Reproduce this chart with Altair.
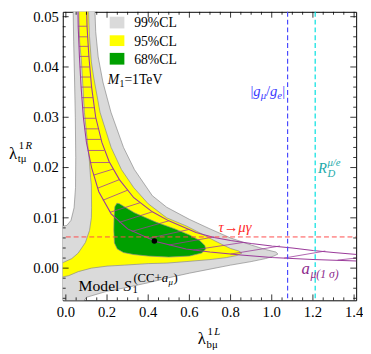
import altair as alt
import pandas as pd

SERIF = "Liberation Serif"
W, H = 300, 295

# ---------------- data ----------------
gray_x = [0.035, 0.038, 0.042, 0.046, 0.048, 0.047, 0.040, 0.025, 0.005, -0.02,
          -0.02, 0.06, 0.10, 0.20, 0.30, 0.40, 0.50, 0.60, 0.70, 0.80, 0.90,
          0.97, 1.01, 1.03, 1.02, 0.97, 0.90, 0.80, 0.70, 0.60, 0.49, 0.42, 0.333,
          0.28, 0.219, 0.18, 0.157, 0.145, 0.14]
gray_y = [0.0525, 0.045, 0.038, 0.030, 0.022, 0.016, 0.012, 0.0095, 0.0085, 0.0083,
          -0.008, -0.008, -0.0058, -0.0046, -0.0038, -0.0029, -0.0019, -0.0010,
          -0.0002, 0.0006, 0.0013, 0.0019, 0.0024, 0.0028, 0.0032, 0.0037,
          0.0046, 0.0060, 0.0078, 0.0097, 0.0121, 0.0144, 0.0196, 0.024, 0.031,
          0.037, 0.042, 0.047, 0.0525]

yellow_x = [0.062, 0.067, 0.076, 0.090, 0.105, 0.114, 0.120, 0.124, 0.125, 0.124,
            0.115, 0.095, 0.060, 0.029, -0.02, -0.02, 0.014, 0.060, 0.124, 0.20,
            0.285, 0.40, 0.49, 0.584, 0.70, 0.78, 0.83, 0.855, 0.84, 0.80, 0.774,
            0.72, 0.646, 0.584, 0.49, 0.40, 0.33, 0.27, 0.22, 0.166, 0.135, 0.124,
            0.115, 0.109]
yellow_y = [0.0525, 0.045, 0.041, 0.031, 0.025, 0.0215, 0.018, 0.0165, 0.012, 0.010,
            0.0075, 0.0051, 0.003, 0.0019, 0.0010, -0.0018, -0.0015, -0.0007, 0.0,
            0.0004, 0.0006, 0.0009, 0.0010, 0.0013, 0.0017, 0.0021, 0.0025, 0.0030,
            0.0034, 0.0039, 0.0044, 0.0055, 0.0071, 0.0084, 0.0100, 0.0128, 0.0160,
            0.0196, 0.0240, 0.031, 0.038, 0.041, 0.046, 0.0525]

green_x = [0.26, 0.333, 0.44, 0.53, 0.60, 0.65, 0.675, 0.679, 0.66, 0.60, 0.50, 0.40,
           0.33, 0.28, 0.25, 0.236, 0.233, 0.234, 0.238, 0.248]
green_y = [0.0128, 0.0110, 0.0091, 0.0078, 0.0066, 0.0055, 0.0045, 0.0038, 0.0030,
           0.0024, 0.0022, 0.0024, 0.0027, 0.0031, 0.0038, 0.0050, 0.0075, 0.0100,
           0.0122, 0.0129]

amu_lo_x = [0.058, 0.060, 0.066, 0.074, 0.085, 0.100, 0.125, 0.16, 0.22, 0.30, 0.437,
            0.584, 0.70, 0.85, 1.0, 1.2, 1.42]
amu_lo_y = [0.053, 0.048, 0.042, 0.036, 0.030, 0.025, 0.020, 0.0152, 0.0108, 0.0078,
            0.0053, 0.0038, 0.0032, 0.0026, 0.0021, 0.0017, 0.0014]
amu_hi_x = [0.100, 0.103, 0.112, 0.125, 0.145, 0.175, 0.21, 0.26, 0.33, 0.42, 0.50,
            0.632, 0.72, 0.80, 0.90, 1.0, 1.1, 1.2, 1.3, 1.42]
amu_hi_y = [0.053, 0.048, 0.042, 0.036, 0.030, 0.025, 0.0212, 0.0176, 0.0140, 0.0112,
            0.0094, 0.0071, 0.0061, 0.0055, 0.0049, 0.0044, 0.0040, 0.0035, 0.0031,
            0.0027]

rung_x1 = [0.060, 0.062, 0.064, 0.066, 0.068, 0.071, 0.074, 0.077, 0.081, 0.085, 0.091,
           0.098, 0.107, 0.119, 0.135, 0.155, 0.18, 0.215, 0.26, 0.32, 0.40, 0.50, 0.62,
           0.80, 1.06, 1.32]
rung_y1 = [0.0481, 0.0460, 0.0441, 0.0421, 0.0400, 0.0380, 0.0360, 0.0339, 0.0319,
           0.0298, 0.0277, 0.0256, 0.0234, 0.0210, 0.0185, 0.0159, 0.0135, 0.0111,
           0.0091, 0.0073, 0.0059, 0.0046, 0.0036, 0.0028, 0.0020, 0.0016]
rung_x2 = [0.103, 0.106, 0.109, 0.112, 0.116, 0.120, 0.125, 0.131, 0.138, 0.146, 0.157,
           0.170, 0.186, 0.212, 0.23, 0.26, 0.30, 0.36, 0.42, 0.50, 0.60, 0.72, 0.86,
           1.04, 1.26, 1.50]
rung_y2 = [0.0481, 0.0460, 0.0441, 0.0421, 0.0400, 0.0380, 0.0360, 0.0339, 0.0319,
           0.0298, 0.0277, 0.0256, 0.0234, 0.0210, 0.0197, 0.0176, 0.0155, 0.0130,
           0.0112, 0.0094, 0.0077, 0.0062, 0.0051, 0.0044, 0.0034, 0.0024]

best_x = [0.43]
best_y = [0.0054]
tau_limit = 0.0062
gmu_limit = 1.077
rd_limit = 1.211

x_ticks = [0.0, 0.2, 0.4, 0.6, 0.8, 1.0, 1.2, 1.4]
x_minor = [0.05, 0.1, 0.15, 0.25, 0.3, 0.35, 0.45, 0.5, 0.55, 0.65, 0.7, 0.75, 0.85,
           0.9, 0.95, 1.05, 1.1, 1.15, 1.25, 1.3, 1.35]
y_ticks = [0.0, 0.01, 0.02, 0.03, 0.04, 0.05]
y_minor = [-0.006, -0.004, -0.002, 0.002, 0.004, 0.006, 0.008, 0.012, 0.014, 0.016,
           0.018, 0.022, 0.024, 0.026, 0.028, 0.032, 0.034, 0.036, 0.038, 0.042,
           0.044, 0.046, 0.048]

# ---------------- scales ----------------
XS = alt.Scale(domain=[-0.015, 1.41], nice=False, zero=False)
YS = alt.Scale(domain=[-0.0064, 0.05097], nice=False, zero=False)

PURPLE = "#9b3c9b"


def X(f):
    return alt.X(f, type="quantitative", scale=XS, axis=None)


def Y(f):
    return alt.Y(f, type="quantitative", scale=YS, axis=None)


def poly(xs, ys, fill):
    xs = list(xs) + [xs[0]]
    ys = list(ys) + [ys[0]]
    df = pd.DataFrame({"x": xs, "y": ys, "i": list(range(len(xs)))})
    return alt.Chart(df).mark_line(fill=fill, stroke="#8a8a8a", strokeWidth=0.7,
                                   clip=True).encode(x=X("x"), y=Y("y"), order="i:Q")


def curve(xs, ys):
    df = pd.DataFrame({"x": xs, "y": ys, "i": list(range(len(xs)))})
    return alt.Chart(df).mark_line(color=PURPLE, strokeWidth=1.1, clip=True).encode(
        x=X("x"), y=Y("y"), order="i:Q")


def xd(v):
    return alt.XDatum(v, type="quantitative", scale=XS, axis=None)


def yd(v):
    return alt.YDatum(v, type="quantitative", scale=YS, axis=None)


def txt(s, x=None, y=None, px=None, py=None, size=14, color="black", italic=False,
        align="left", dx=0, dy=0):
    ex = alt.value(px) if px is not None else xd(x)
    ey = alt.value(py) if py is not None else yd(y)
    return alt.Chart().mark_text(text=s, font=SERIF, fontSize=size, color=color,
                                 fontStyle="italic" if italic else "normal",
                                 align=align, baseline="alphabetic", dx=dx, dy=dy).encode(
        x=ex, y=ey)


layers = []
layers.append(poly(gray_x, gray_y, "#dadada"))
layers.append(poly(yellow_x, yellow_y, "#ffff00"))
layers.append(poly(green_x, green_y, "#00a000"))

rungs = pd.DataFrame({"x1": rung_x1, "y1": rung_y1, "x2": rung_x2, "y2": rung_y2})
layers.append(alt.Chart(rungs).mark_rule(color=PURPLE, strokeWidth=0.8, clip=True).encode(
    x=X("x1"), y=Y("y1"), x2="x2:Q", y2="y2:Q"))
layers.append(curve(amu_lo_x, amu_lo_y))
layers.append(curve(amu_hi_x, amu_hi_y))

# dashed limits
layers.append(alt.Chart().mark_rule(color="#ff4a4a", strokeWidth=1, strokeDash=[5, 3]).encode(
    x=xd(0.0), x2=alt.value(W), y=yd(tau_limit)))
layers.append(alt.Chart().mark_rule(color="#4a4aff", strokeWidth=1.2, strokeDash=[5, 3]).encode(
    x=xd(gmu_limit), y=alt.value(0), y2=alt.value(H)))
layers.append(alt.Chart().mark_rule(color="#00e0e0", strokeWidth=1.2, strokeDash=[5, 3]).encode(
    x=xd(rd_limit), y=alt.value(0), y2=alt.value(H)))

# best fit point
layers.append(alt.Chart(pd.DataFrame({"x": best_x, "y": best_y})).mark_point(
    filled=True, color="black", size=32, opacity=1).encode(x=X("x"), y=Y("y")))


# ticks (inward) and tick labels
def xt(vals, ln):
    d = pd.DataFrame({"v": vals})
    return [alt.Chart(d).mark_rule(color="black", strokeWidth=0.8).encode(
                x=X("v"), y=alt.value(H - ln), y2=alt.value(H)),
            alt.Chart(d).mark_rule(color="black", strokeWidth=0.8).encode(
                x=X("v"), y=alt.value(0), y2=alt.value(ln))]


def yt(vals, ln):
    d = pd.DataFrame({"v": vals})
    return [alt.Chart(d).mark_rule(color="black", strokeWidth=0.8).encode(
                y=Y("v"), x=alt.value(0), x2=alt.value(ln)),
            alt.Chart(d).mark_rule(color="black", strokeWidth=0.8).encode(
                y=Y("v"), x=alt.value(W - ln), x2=alt.value(W))]


layers += xt(x_ticks, 6) + xt(x_minor, 3) + yt(y_ticks, 6) + yt(y_minor, 3)

layers.append(alt.Chart(pd.DataFrame({"v": x_ticks})).mark_text(
    font=SERIF, fontSize=15, color="black", align="center", baseline="alphabetic").encode(
    x=X("v"), y=alt.value(H + 17), text=alt.Text("v:Q", format=".1f")))
layers.append(alt.Chart(pd.DataFrame({"v": y_ticks})).mark_text(
    font=SERIF, fontSize=15, color="black", align="right", baseline="middle").encode(
    y=Y("v"), x=alt.value(-4), text=alt.Text("v:Q", format=".2f")))

# legend
for (y0, y1, c) in [(5, 17, "#dadada"), (24, 35, "#ffff00"), (42, 54, "#00a000")]:
    layers.append(alt.Chart().mark_rect(color=c).encode(
        x=alt.value(48), x2=alt.value(63), y=alt.value(y0), y2=alt.value(y1)))
layers.append(txt("99%CL", px=73, py=16))
layers.append(txt("95%CL", px=73, py=35))
layers.append(txt("68%CL", px=73, py=53))
layers.append(txt("M", px=46, py=74, italic=True))
layers.append(txt("1", px=58, py=77, size=10))
layers.append(txt("=1TeV", px=63, py=74))

# annotations
BLUE = "#3a3aff"
for s, d, dy, sz, it in [("|", -38, 0, 15, False), ("g", -35, 0, 15, True),
                         ("μ", -27.5, 3, 11, True), ("/", -22, 0, 15, False),
                         ("g", -18, 0, 15, True), ("e", -10.5, 3, 11, True),
                         ("|", -5.5, 0, 15, False)]:
    layers.append(txt(s, x=gmu_limit, y=0.0342, size=sz, color=BLUE, italic=it, dx=d, dy=dy))
TEAL = "#22aaaa"
layers.append(txt("R", x=rd_limit, y=0.0189, size=15, color=TEAL, italic=True, dx=3))
layers.append(txt("D", x=rd_limit, y=0.0189, size=11, color=TEAL, italic=True, dx=12.5, dy=4))
layers.append(txt("μ/e", x=rd_limit, y=0.0189, size=11, color=TEAL, italic=True, dx=12.5, dy=-7))
layers.append(txt("τ→μγ", x=0.741, y=0.0072, size=15, color="#ff2a2a", italic=True))
layers.append(txt("a", x=1.145, y=-0.00115, size=17, color="#8c2a8c", italic=True))
layers.append(txt("μ(1 σ)", x=1.145, y=-0.00115, size=12, color="#8c2a8c", italic=True, dx=9, dy=4))

MY = -0.00445
layers.append(txt("Model", x=0.062, y=MY, size=16))
layers.append(txt("S", x=0.062, y=MY, size=16, italic=True, dx=46))
layers.append(txt("1", x=0.062, y=MY, size=11, dx=55, dy=3))
layers.append(txt("(CC+", x=0.062, y=MY, size=13, dx=56, dy=-9))
layers.append(txt("a", x=0.062, y=MY, size=13, italic=True, dx=85, dy=-9))
layers.append(txt("μ", x=0.062, y=MY, size=9, italic=True, dx=92, dy=-6))
layers.append(txt(")", x=0.062, y=MY, size=13, dx=97, dy=-9))

# axis titles
layers.append(txt("λ", px=138, py=340, size=17))
layers.append(txt("1", px=148, py=330, size=11))
layers.append(txt("L", px=155, py=330, size=11, italic=True))
layers.append(txt("bμ", px=147, py=344, size=11))
layers.append(txt("λ", px=-55, py=150, size=17))
layers.append(txt("1", px=-45, py=140, size=11))
layers.append(txt("R", px=-38, py=140, size=11, italic=True))
layers.append(txt("tμ", px=-46, py=154, size=11))

chart = alt.layer(*layers).properties(
    width=W, height=H,
    autosize=alt.AutoSizeParams(type="none"),
    padding={"left": 56, "top": 0, "right": 7, "bottom": 51},
).configure_view(stroke="black", strokeWidth=1)

chart.save("out.html", embed_options={"renderer": "svg", "actions": False})
